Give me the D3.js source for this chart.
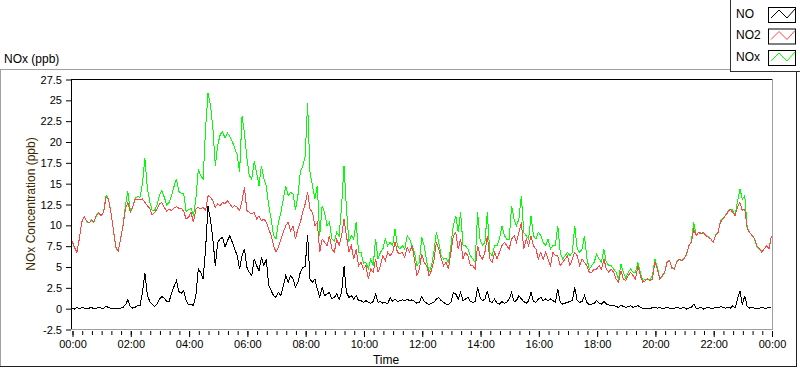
<!DOCTYPE html>
<html>
<head>
<meta charset="utf-8">
<script src="https://cdn.jsdelivr.net/npm/d3@7"></script>
<style>
  body { margin: 0; background: #fff; }
  svg { display: block; font-family: 'Liberation Sans', Arial, sans-serif; }
  .axis .tick text { fill: #000; font-size: 11px; }
  .axis .tick line { stroke: #000; }
</style>
</head>
<body>
<svg id="chart"></svg>
<script>
const WIDTH = 800
const HEIGHT = 369
const PLOT = { left: 71, right: 772, top: 79, bottom: 329 }

// samples are every 5 minutes, 00:00 .. 24:00
const STEP = 5
const Y_TICKS = [-2.5, 0, 2.5, 5, 7.5, 10, 12.5, 15, 17.5, 20, 22.5, 25, 27.5]
const X_TICKS = [0, 120, 240, 360, 480, 600, 720, 840, 960, 1080, 1200, 1320, 1440]
const X_LABELS = ['00:00', '02:00', '04:00', '06:00', '08:00', '10:00', '12:00',
  '14:00', '16:00', '18:00', '20:00', '22:00', '00:00']
const X_MINOR = 20

const NO = [
  0, -0.1, 0.1, -0.1, 0.1, 0, -0.1, 0, 0.1, -0.1, 0, 0.1, 0, 0, 0.2, 0.1, 0, 0, -0.1, 0, 0, 0.1, 0.4, 1.0, 0.2,
  0, 0.1, 0.3, 0.3, 1.8, 4.2, 1.6, 0.8, 0.5, 0.2, 0.5, 1.1, 1.4, 1.2, 0.8, 0.8, 1.8, 2.6, 3.3, 2.0, 1.8, 2.1, 0.9, 0.4,
  0.5, 0.3, 1.5, 4.7, 4.3, 3.5, 7.1, 12.2, 10.7, 8.3, 5.1, 7.9, 8.3, 8.5, 7.3, 8.1, 8.7, 7.9, 7.1, 6.3, 4.7, 6.3, 7.1, 4.9,
  4.3, 3.9, 5.9, 5.1, 4.5, 6.1, 5.1, 5.9, 2.7, 2.1, 1.5, 1.3, 1.9, 1.5, 2.7, 3.9, 3.1, 3.9, 3.5, 2.5, 3.1, 4.3, 4.9, 5.0,
  8.8, 3.5, 3.1, 3.5, 2.3, 1.3, 2.5, 1.5, 1.7, 1.9, 1.1, 1.3, 1.7, 1.1, 1.9, 5.0, 1.9, 1.3, 1.5, 1.1, 1.5, 0.9, 0.9, 0.7,
  0.9, 0.7, 0.6, 0.8, 1.7, 0.7, 0.8, 0.6, 0.7, 0.5, 1.3, 0.8, 1.1, 0.8, 0.9, 1.0, 0.9, 1.1, 0.9, 1.0, 0.8, 0.6, 0.7, 1.4,
  0.8, 0.6, 0.4, 0.6, 0.7, 1.1, 1.3, 0.9, 0.7, 0.5, 0.4, 0.7, 1.9, 1.7, 1.1, 1.9, 0.9, 1.1, 1.3, 0.8, 0.7, 0.8, 2.5, 1.3,
  0.9, 1.1, 2.1, 0.8, 0.7, 1.1, 0.6, 0.5, 0.8, 0.6, 0.7, 1.1, 1.9, 0.8, 0.9, 1.5, 1.1, 0.8, 0.6, 0.9, 1.9, 0.8, 0.7, 1.1,
  1.3, 0.9, 1.1, 0.9, 1.1, 0.9, 0.7, 2.3, 0.7, 0.5, 0.6, 0.7, 0.8, 0.9, 2.5, 0.9, 0.7, 0.8, 1.5, 0.7, 0.4, 0.5, 0.6, 0.9,
  0.6, 0.5, 0.8, 0.5, 0.4, 0.3, 0.3, 0.2, 0.1, 0.4, 0.2, 0.1, 0.2, 0.3, 0.1, 0.2, 0.3, 0.1, 0, 0, 0, -0.1, 0.1, 0.1,
  0, 0.1, -0.1, 0, 0.1, 0, -0.1, 0, 0.1, 0, 0, 0.1, -0.1, 0, 0.1, 0.5, 0, 0, 0.1, -0.1, 0, 0.1, 0, 0,
  0.1, 0, 0.2, 0.1, 0, 0.1, 0, 0.3, 0, 1.1, 2.1, 0.4, 1.5, 0.2, 0, 0.1, 0, -0.1, 0, 0.1, 0, 0, 0.1, 0
]

const NO2 = [
  8.1, 7.3, 6.7, 8.3, 10.3, 11.0, 10.5, 10.2, 10.5, 10.4, 11.1, 11.4, 11.1, 11.5, 13.3, 13.1, 11.5, 9.5, 7.4, 6.8, 8.3, 9.9, 11.9, 12.7, 11.5,
  12.1, 13.1, 13.1, 13.0, 13.1, 12.7, 12.3, 12.0, 11.2, 11.5, 11.9, 12.5, 12.7, 12.1, 11.6, 11.9, 11.7, 12.0, 12.2, 12.0, 12.0, 11.6, 10.7, 10.9,
  11.5, 10.3, 11.9, 12.1, 11.9, 12.1, 11.7, 13.5, 13.3, 12.9, 12.1, 12.5, 12.3, 12.7, 12.5, 12.9, 12.5, 12.1, 12.3, 12.1, 11.7, 12.9, 14.5, 11.7,
  11.5, 11.3, 11.5, 10.7, 11.1, 10.5, 10.7, 10.3, 9.5, 8.7, 7.5, 6.7, 7.3, 8.3, 9.1, 9.9, 10.3, 9.3, 9.9, 8.3, 9.5, 10.3, 11.5, 12.5,
  13.9, 11.9, 11.5, 9.9, 10.3, 6.7, 8.3, 7.9, 7.5, 8.7, 7.1, 6.7, 8.3, 7.5, 8.7, 10.7, 8.7, 6.7, 7.5, 5.9, 7.1, 5.1, 5.5, 4.7,
  5.1, 3.5, 4.7, 4.3, 5.9, 4.3, 5.1, 6.3, 5.7, 6.7, 6.3, 6.7, 7.9, 6.7, 6.5, 6.7, 6.1, 7.3, 6.7, 7.5, 5.9, 3.9, 4.7, 6.5,
  5.5, 5.1, 3.9, 4.5, 5.7, 7.9, 7.1, 5.9, 5.1, 5.5, 4.7, 6.7, 8.7, 9.1, 7.1, 8.3, 5.9, 6.7, 6.3, 5.1, 5.1, 4.7, 7.5, 6.3,
  5.9, 6.7, 8.7, 5.9, 5.5, 6.7, 5.9, 6.7, 7.5, 7.9, 7.5, 7.1, 8.3, 8.7, 7.9, 9.1, 10.3, 7.1, 8.3, 7.5, 8.7, 7.5, 7.1, 5.9,
  6.7, 5.9, 6.7, 5.9, 5.1, 6.7, 6.3, 6.3, 5.1, 5.5, 5.9, 6.3, 5.1, 5.9, 6.7, 6.3, 5.1, 5.9, 5.5, 5.1, 4.3, 4.3, 4.7, 4.7,
  5.1, 4.7, 5.9, 4.7, 4.3, 4.7, 4.3, 3.5, 3.1, 4.5, 3.5, 3.3, 3.9, 4.3, 3.9, 3.5, 5.1, 3.9, 3.1, 3.3, 3.5, 3.3, 3.5, 5.5,
  4.7, 3.5, 3.9, 4.3, 5.5, 5.7, 4.9, 4.7, 5.5, 5.9, 5.7, 5.9, 6.5, 7.5, 7.9, 9.5, 8.7, 9.1, 8.9, 9.1, 8.7, 8.5, 8.3, 7.9,
  8.7, 9.1, 10.3, 10.7, 11.1, 11.5, 11.9, 11.5, 11.1, 12.1, 12.7, 11.7, 11.9, 9.5, 9.1, 8.7, 8.3, 7.5, 7.1, 6.7, 7.1, 7.5, 7.1, 8.7
]

const NOX = [
  8.1, 7.2, 6.8, 8.2, 10.4, 11.0, 10.4, 10.2, 10.6, 10.3, 11.1, 11.5, 11.1, 11.5, 13.5, 13.2, 11.5, 9.5, 7.3, 6.8, 8.3, 10.0, 12.3, 14.0, 11.7,
  12.1, 13.2, 13.4, 13.3, 14.9, 18.0, 14.5, 12.8, 11.7, 11.7, 12.4, 13.6, 14.1, 13.3, 12.4, 12.7, 13.5, 14.6, 15.5, 14.0, 13.8, 13.7, 11.6, 11.8,
  12.0, 11.1, 13.1, 16.7, 15.9, 15.5, 21.6, 25.8, 24.4, 21.6, 17.1, 19.6, 20.8, 21.2, 20.4, 21.0, 20.6, 20.0, 19.2, 18.4, 16.3, 23.0, 21.0, 18.0,
  15.9, 15.5, 17.6, 16.3, 14.7, 17.1, 15.5, 14.7, 12.3, 10.7, 8.7, 8.3, 10.3, 11.5, 13.1, 14.7, 13.5, 13.9, 13.7, 11.8, 13.5, 16.3, 17.1, 18.2,
  24.6, 16.3, 14.7, 13.1, 14.7, 8.7, 12.3, 11.5, 9.9, 10.3, 8.3, 8.0, 9.1, 8.7, 12.3, 17.1, 11.9, 8.0, 8.7, 8.3, 10.3, 6.7, 6.7, 5.4,
  5.5, 4.7, 5.9, 5.1, 8.3, 5.9, 6.7, 7.1, 8.3, 7.5, 7.9, 7.5, 9.5, 7.5, 7.1, 7.5, 7.1, 8.7, 8.3, 7.5, 6.7, 5.1, 5.5, 8.5,
  7.5, 5.7, 4.3, 5.1, 6.7, 9.1, 7.9, 6.3, 5.9, 6.0, 5.5, 7.5, 9.9, 11.1, 9.1, 11.5, 7.5, 7.5, 7.1, 6.3, 5.9, 5.5, 11.5, 8.3,
  7.5, 7.9, 11.5, 6.7, 6.3, 7.5, 7.5, 8.3, 9.9, 8.7, 8.3, 8.3, 12.3, 10.7, 9.9, 10.7, 13.5, 9.1, 8.7, 8.3, 11.1, 8.7, 8.3, 9.1,
  8.7, 7.9, 7.5, 8.3, 7.1, 7.5, 7.5, 9.9, 6.7, 5.9, 6.3, 6.7, 6.3, 6.7, 9.9, 7.1, 6.7, 7.1, 8.7, 5.9, 4.7, 5.1, 5.5, 6.5,
  5.9, 5.5, 7.1, 5.5, 5.1, 5.1, 4.7, 4.3, 3.4, 5.3, 4.3, 3.6, 4.3, 4.7, 4.3, 4.3, 5.5, 4.3, 3.3, 3.5, 3.5, 3.4, 3.9, 5.9,
  4.9, 3.6, 3.8, 4.3, 5.6, 5.7, 4.8, 4.7, 5.6, 5.9, 5.7, 6.0, 6.4, 7.5, 8.0, 10.3, 8.7, 9.1, 9.0, 9.0, 8.7, 8.6, 8.3, 7.9,
  8.8, 9.1, 10.5, 10.8, 11.1, 11.6, 11.9, 11.8, 11.1, 12.8, 14.3, 13.1, 13.5, 9.7, 9.1, 8.8, 8.3, 7.4, 7.1, 6.8, 7.1, 7.5, 7.2, 8.7
]

const SERIES_NAMES = ['NO', 'NO2', 'NOx']
const SERIES_COLORS = ['#000000', '#ff4444', '#00ff00']
const SERIES_VALUES = [NO, NO2, NOX]

class Chart {
  constructor(selector) {
    this.svg = d3.select(selector)
      .attr('width', WIDTH)
      .attr('height', HEIGHT)
    this.setScales()
    this.frame()
    this.yAxis()
    this.xAxis()
    this.lines()
    this.labels()
    this.legend()
  }

  setScales() {
    this.x = d3.scaleLinear().domain([0, 1440]).range([PLOT.left + 1, PLOT.right - 0.5])
    this.y = d3.scaleLinear().domain([-2.5, 27.5]).range([PLOT.bottom, PLOT.top])
  }

  frame() {
    // outer panel, sunken look: light top/left, dark bottom/right
    const p = this.svg.append('g')
    p.append('line').attr('x1', 0).attr('x2', 797).attr('y1', 69.5).attr('y2', 69.5).attr('stroke', '#a0a0a0')
    p.append('line').attr('x1', 0.5).attr('x2', 0.5).attr('y1', 69).attr('y2', 367).attr('stroke', '#a0a0a0')
    p.append('line').attr('x1', 0).attr('x2', 797).attr('y1', 366.5).attr('y2', 366.5).attr('stroke', '#202020')
    p.append('line').attr('x1', 796.5).attr('x2', 796.5).attr('y1', 69).attr('y2', 367).attr('stroke', '#202020')

    // plot area
    p.append('rect')
      .attr('x', PLOT.left).attr('y', PLOT.top)
      .attr('width', PLOT.right - PLOT.left).attr('height', PLOT.bottom - PLOT.top)
      .attr('fill', '#fff')
    p.append('line').attr('x1', PLOT.left + 0.5).attr('x2', PLOT.right).attr('y1', PLOT.top + 0.5).attr('y2', PLOT.top + 0.5).attr('stroke', '#000')
    p.append('line').attr('x1', PLOT.left + 0.5).attr('x2', PLOT.left + 0.5).attr('y1', PLOT.top).attr('y2', PLOT.bottom + 1).attr('stroke', '#000')
    p.append('line').attr('x1', PLOT.left).attr('x2', PLOT.right + 1).attr('y1', PLOT.bottom + 0.5).attr('y2', PLOT.bottom + 0.5).attr('stroke', '#a0a0a0')
    p.append('line').attr('x1', PLOT.right + 0.5).attr('x2', PLOT.right + 0.5).attr('y1', PLOT.top).attr('y2', PLOT.bottom + 1).attr('stroke', '#a0a0a0')
  }

  yAxis() {
    const g = this.svg.append('g')
      .attr('class', 'axis')
      .attr('transform', `translate(${PLOT.left}, 0.5)`)
      .call(d3.axisLeft(this.y).tickValues(Y_TICKS).tickSize(5).tickPadding(4).tickFormat(d => String(d)))
    g.select('.domain').remove()
  }

  xAxis() {
    const minor = d3.range(0, 1440 + X_MINOR, X_MINOR)
    const gMinor = this.svg.append('g')
      .attr('class', 'axis')
      .attr('transform', `translate(0.5, ${PLOT.bottom + 2})`)
      .call(d3.axisBottom(this.x).tickValues(minor).tickSize(4).tickFormat(''))
    gMinor.select('.domain').remove()

    const g = this.svg.append('g')
      .attr('class', 'axis')
      .attr('transform', `translate(0.5, ${PLOT.bottom + 2})`)
      .call(d3.axisBottom(this.x).tickValues(X_TICKS).tickSize(6).tickPadding(3)
        .tickFormat((d, i) => X_LABELS[i]))
    g.select('.domain').remove()
  }

  lines() {
    this.svg.append('clipPath').attr('id', 'plot-clip')
      .append('rect')
      .attr('x', PLOT.left + 1).attr('y', PLOT.top + 1)
      .attr('width', PLOT.right - PLOT.left - 1).attr('height', PLOT.bottom - PLOT.top - 1)

    const g = this.svg.append('g').attr('clip-path', 'url(#plot-clip)')
    const line = d3.line()
      .x((d, i) => this.x(i * STEP))
      .y(d => this.y(d))

    // NOx underneath, then NO2, NO on top; no antialiasing, like the original
    ;[2, 1, 0].forEach(s => {
      g.append('path')
        .datum(SERIES_VALUES[s])
        .attr('fill', 'none')
        .attr('stroke', SERIES_COLORS[s])
        .attr('stroke-width', 1)
        .attr('shape-rendering', 'crispEdges')
        .attr('d', line)
    })
  }

  labels() {
    this.svg.append('text')
      .attr('x', 4).attr('y', 63)
      .style('font-size', '12px')
      .text('NOx (ppb)')

    this.svg.append('text')
      .attr('transform', `translate(35, ${(PLOT.top + PLOT.bottom) / 2}) rotate(-90)`)
      .attr('text-anchor', 'middle')
      .style('font-size', '12px')
      .style('fill', '#3c2800')
      .text('NOx Concentration (ppb)')

    this.svg.append('text')
      .attr('x', 386).attr('y', 364)
      .attr('text-anchor', 'middle')
      .style('font-size', '12px')
      .text('Time')
  }

  legend() {
    const g = this.svg.append('g')
    g.append('rect')
      .attr('x', 730.5).attr('y', -0.5).attr('width', 70).attr('height', 72)
      .attr('fill', '#fff').attr('stroke', '#303030')

    const rowY = d3.scaleLinear().domain([0, 1]).range([7, 28.5])
    SERIES_NAMES.forEach((name, i) => {
      const y0 = rowY(i)
      g.append('text')
        .attr('x', 736).attr('y', y0 + 10.5)
        .style('font-size', '12px')
        .text(name)
      g.append('rect')
        .attr('x', 768.5).attr('y', y0 + 0.5).attr('width', 27).attr('height', 15)
        .attr('fill', '#fff').attr('stroke', '#000')
      g.append('polyline')
        .attr('points', [[771, y0 + 11], [779, y0 + 3], [787, y0 + 11], [795, y0 + 2]].join(' '))
        .attr('fill', 'none')
        .attr('stroke', SERIES_COLORS[i])
    })
  }
}

new Chart('#chart')
</script>
</body>
</html>
